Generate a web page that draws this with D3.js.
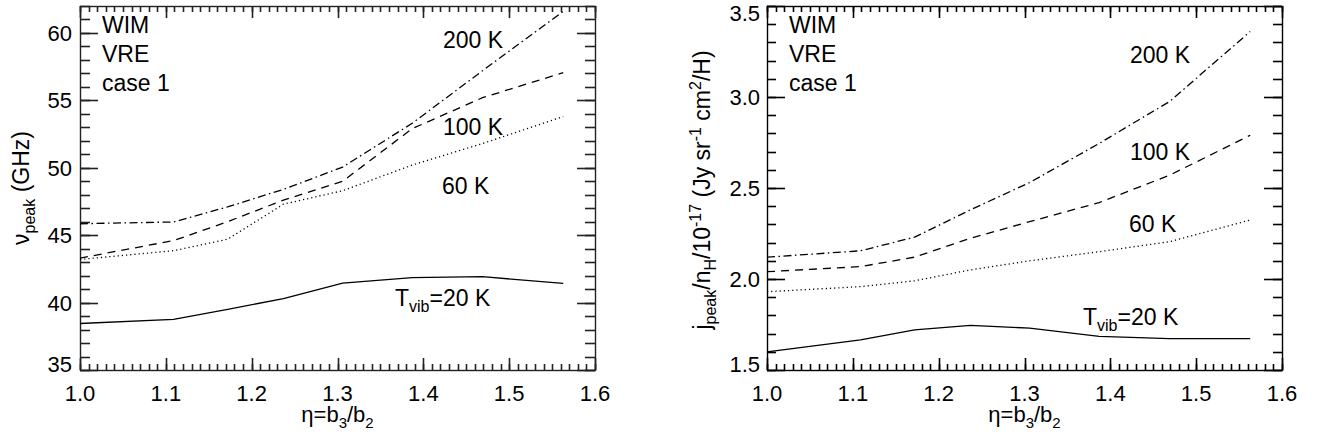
<!DOCTYPE html>
<html>
<head>
<meta charset="utf-8">
<script src="https://cdn.jsdelivr.net/npm/d3@7"></script>
<style>
  html, body { margin: 0; padding: 0; background: #fff; }
  svg text { font-family: "Liberation Sans", Arial, Helvetica, sans-serif; fill: #000; }
</style>
</head>
<body>
<div id="chart"></div>
<script>
// eta = b3/b2 grid
const eta = [1.0, 1.109, 1.172, 1.237, 1.306, 1.387, 1.469, 1.563];

// peak frequency (GHz)
const nu20  = [38.45, 38.75, 39.5, 40.3, 41.45, 41.85, 41.92, 41.42];
const nu60  = [43.2, 43.85, 44.7, 47.3, 48.3, 50.2, 51.8, 53.8];
const nu100 = [43.3, 44.6, 46.0, 47.6, 49.0, 52.9, 55.2, 57.05];
const nu200 = [45.85, 45.98, 47.1, 48.4, 50.05, 53.3, 57.2, 61.6];

// peak emissivity j/nH (1e-17 Jy sr^-1 cm^2/H)
const j20  = [1.60, 1.665, 1.72, 1.745, 1.73, 1.685, 1.672, 1.672];
const j60  = [1.93, 1.958, 1.99, 2.05, 2.10, 2.15, 2.205, 2.324];
const j100 = [2.04, 2.068, 2.12, 2.224, 2.315, 2.42, 2.57, 2.79];
const j200 = [2.12, 2.155, 2.23, 2.38, 2.53, 2.745, 2.975, 3.36];

const xTicks = [1.0, 1.1, 1.2, 1.3, 1.4, 1.5, 1.6];
const nuTicks = [35, 40, 45, 50, 55, 60];
const jTicks = [1.5, 2.0, 2.5, 3.0, 3.5];
const tempLabels = ["60 K", "100 K", "200 K"];

const W = 1323, H = 442;
const svg = d3.select('#chart').append('svg')
  .attr('width', W).attr('height', H);

const styles = {
  solid: null,
  dotted: '1.2,3',
  dashed: '8,6',
  dashdot: '8,3.5,1.5,3.5'
};

// inward tick marks along one side of the box
function tickMarks(g, vals, scale, edge, side, len, color) {
  const horiz = side === 'bottom' || side === 'top';
  const sgn = (side === 'bottom' || side === 'right') ? -1 : 1;
  g.append('g').selectAll('path').data(vals).join('path')
    .attr('d', d => {
      const s = Math.round(scale(d)) + 0.5;
      return horiz ? `M${s},${edge}L${s},${edge + sgn * len}`
                   : `M${edge},${s}L${edge + sgn * len},${s}`;
    })
    .attr('fill', 'none')
    .attr('stroke', color)
    .attr('stroke-width', 1.6);
}

function drawPanel(opt) {
  const x = d3.scaleLinear().domain([1.0, 1.6]).range([opt.left, opt.right]);
  const y = d3.scaleLinear().domain(opt.yDomain).range([opt.bottom, opt.top]);
  const g = svg.append('g');
  const c = opt.axisColor;

  const xMinor = d3.range(100, 161).map(d => d / 100);
  const nMinor = Math.round((opt.yDomain[1] - opt.yDomain[0]) / opt.yMinorStep);
  const yMinor = d3.range(0, nMinor + 1).map(i => opt.yDomain[0] + i * opt.yMinorStep);

  // frame
  g.append('rect')
    .attr('x', opt.left + 0.5).attr('y', opt.top + 0.5)
    .attr('width', opt.right - opt.left).attr('height', opt.bottom - opt.top)
    .attr('fill', 'none').attr('stroke', c).attr('stroke-width', 1.4);

  // curves
  const line = d3.line().x((d, i) => x(eta[i])).y(d => y(d));
  opt.series.forEach(s => {
    g.append('path')
      .attr('d', line(s.values))
      .attr('fill', 'none')
      .attr('stroke', '#000')
      .attr('stroke-width', 1.3)
      .attr('stroke-dasharray', styles[s.style]);
  });

  // ticks on all four sides
  tickMarks(g, xMinor, x, opt.bottom, 'bottom', 6, c);
  tickMarks(g, xMinor, x, opt.top, 'top', 6, c);
  tickMarks(g, xTicks, x, opt.bottom, 'bottom', 12, c);
  tickMarks(g, xTicks, x, opt.top, 'top', 12, c);
  tickMarks(g, yMinor, y, opt.left, 'left', opt.yMinorLen, c);
  tickMarks(g, yMinor, y, opt.right, 'right', opt.yMinorLen, c);
  tickMarks(g, opt.yTicks, y, opt.left, 'left', 18, c);
  tickMarks(g, opt.yTicks, y, opt.right, 'right', 18, c);

  // tick labels
  const fx = d3.format('.1f'), fy = d3.format(opt.yFormat);
  g.append('g').selectAll('text').data(xTicks).join('text')
    .attr('x', d => x(d)).attr('y', opt.bottom + 31)
    .attr('text-anchor', 'middle').attr('font-size', 22)
    .text(fx);
  g.append('g').selectAll('text').data(opt.yTicks).join('text')
    .attr('x', opt.left - opt.yLabelGap)
    .attr('y', d => Math.min(Math.max(y(d), opt.top + 7), opt.bottom - 6))
    .attr('dy', '0.36em')
    .attr('text-anchor', 'end').attr('font-size', 22)
    .text(fy);

  // x title
  const xt = g.append('text')
    .attr('x', (opt.left + opt.right) / 2).attr('y', 422)
    .attr('text-anchor', 'middle').attr('font-size', 22);
  xt.append('tspan').text('η=b');
  xt.append('tspan').text('3').attr('font-size', 15).attr('dy', 6);
  xt.append('tspan').text('/b').attr('dy', -6);
  xt.append('tspan').text('2').attr('font-size', 15).attr('dy', 6);

  // y title
  const yt = g.append('text')
    .attr('transform', `translate(${opt.yTitleX},${opt.yTitleY}) rotate(-90)`)
    .attr('text-anchor', 'middle').attr('font-size', 23);
  opt.yTitle.forEach(p => {
    const t = yt.append('tspan').text(p.t);
    if (p.size) t.attr('font-size', p.size);
    if (p.dy) t.attr('dy', p.dy);
  });

  // annotations
  ['WIM', 'VRE', 'case 1'].forEach((t, i) => {
    g.append('text').attr('x', opt.left + 22).attr('y', 33 + i * 29.2)
      .attr('font-size', 23).text(t);
  });
  opt.tempPos.forEach((p, i) => {
    g.append('text').attr('x', p[0]).attr('y', p[1]).attr('font-size', 23).text(tempLabels[i]);
  });
  const tv = g.append('text').attr('x', opt.tvib[0]).attr('y', opt.tvib[1]).attr('font-size', 23);
  tv.append('tspan').text('T');
  tv.append('tspan').text('vib').attr('font-size', 16).attr('dy', 6);
  tv.append('tspan').text('=20 K').attr('dy', -6);
}

drawPanel({
  left: 80, right: 595, top: 6, bottom: 370,
  yDomain: [35, 62], yTicks: nuTicks, yMinorStep: 1, yMinorLen: 10,
  yFormat: 'd', yLabelGap: 8, axisColor: '#222',
  yTitleX: 29, yTitleY: 188,
  yTitle: [
    { t: 'ν' },
    { t: 'peak', size: 16, dy: 6 },
    { t: ' (GHz)', dy: -6 }
  ],
  series: [
    { values: nu20, style: 'solid' },
    { values: nu60, style: 'dotted' },
    { values: nu100, style: 'dashed' },
    { values: nu200, style: 'dashdot' }
  ],
  tempPos: [[442, 194], [443, 135], [443, 48]],
  tvib: [395, 306]
});

drawPanel({
  left: 767, right: 1282, top: 6, bottom: 370,
  yDomain: [1.5, 3.5], yTicks: jTicks, yMinorStep: 0.1, yMinorLen: 9,
  yFormat: '.1f', yLabelGap: 7, axisColor: '#000',
  yTitleX: 710, yTitleY: 190,
  yTitle: [
    { t: 'j' },
    { t: 'peak', size: 16, dy: 6 },
    { t: '/n', dy: -6 },
    { t: 'H', size: 16, dy: 6 },
    { t: '/10', dy: -6 },
    { t: '-17', size: 16, dy: -9 },
    { t: ' (Jy sr', dy: 9 },
    { t: '-1', size: 16, dy: -9 },
    { t: ' cm', dy: 9 },
    { t: '2', size: 16, dy: -9 },
    { t: '/H)', dy: 9 }
  ],
  series: [
    { values: j20, style: 'solid' },
    { values: j60, style: 'dotted' },
    { values: j100, style: 'dashed' },
    { values: j200, style: 'dashdot' }
  ],
  tempPos: [[1129, 232], [1130, 160], [1130, 63]],
  tvib: [1083, 325]
});
</script>
</body>
</html>
